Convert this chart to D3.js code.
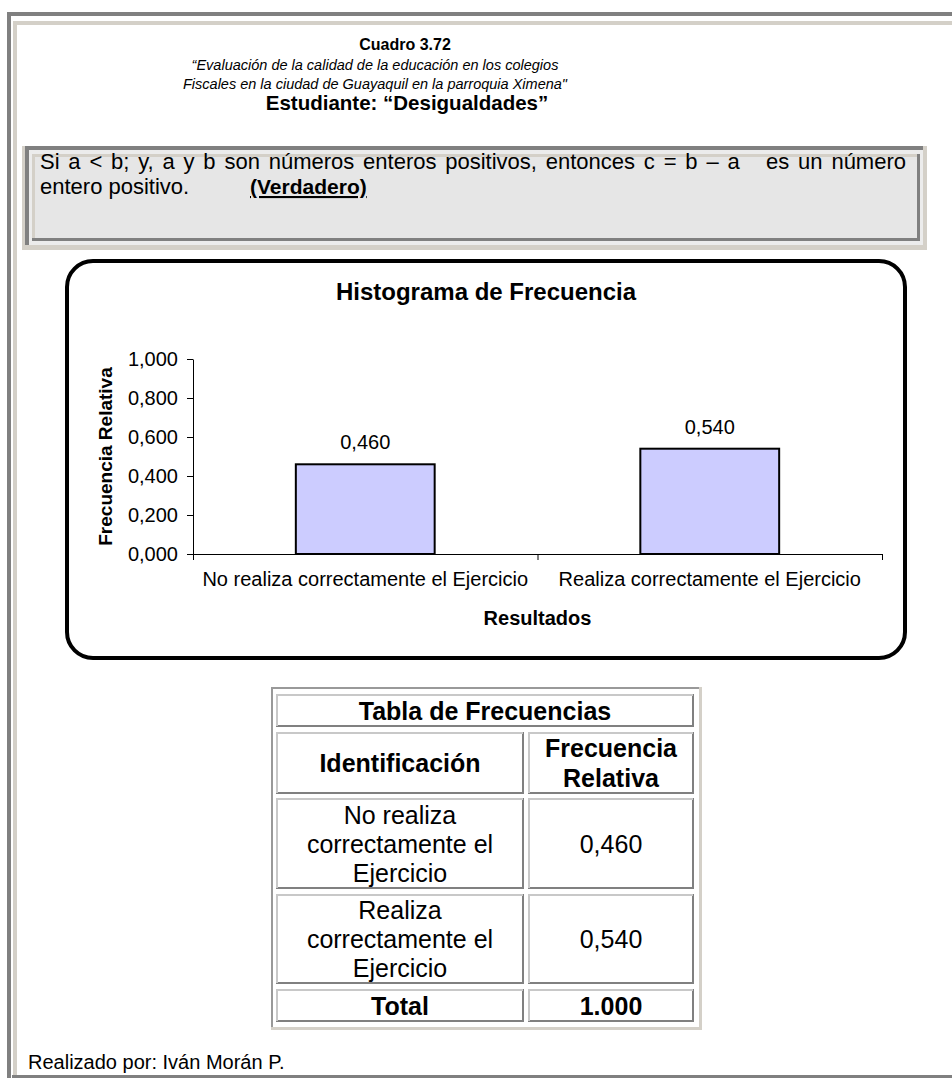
<!DOCTYPE html>
<html>
<head>
<meta charset="utf-8">
<script src="https://cdn.jsdelivr.net/npm/d3@7"></script>
<style>
  body { margin: 0; background: #fff; }
  text { font-family: "Liberation Sans", Arial, sans-serif; fill: #000; }
</style>
</head>
<body>
<div id="page"></div>
<script>
// ---- data ----
var categories = ["No realiza correctamente el Ejercicio", "Realiza correctamente el Ejercicio"];
var relFreq = [0.460, 0.540];
var yTicks = [0, 0.2, 0.4, 0.6, 0.8, 1.0];
var tableLabels = [["No realiza", "correctamente el", "Ejercicio"], ["Realiza", "correctamente el", "Ejercicio"]];
var totalLabel = "1.000";

var W = 952, H = 1078;
var font = '"Liberation Sans", Arial, sans-serif';

// spanish number format: 0,460
var es = d3.formatLocale({decimal: ",", thousands: ".", grouping: [3], currency: ["", ""]});
var fmt = es.format(".3f");

var svg = d3.select("#page").append("svg")
    .attr("width", W)
    .attr("height", H);

// ---- page frame (old html table borders) ----
svg.append("rect").attr("x", 7).attr("y", 12).attr("width", 960).attr("height", 1080).attr("fill", "#808080");
svg.append("rect").attr("x", 11).attr("y", 16).attr("width", 960).attr("height", 1080).attr("fill", "#fff");
svg.append("rect").attr("x", 13).attr("y", 21).attr("width", 960).attr("height", 1080).attr("fill", "#d4d0c8");
svg.append("rect").attr("x", 17).attr("y", 25).attr("width", 960).attr("height", 1080).attr("fill", "#fff");
svg.append("rect").attr("x", 12).attr("y", 1075).attr("width", 950).attr("height", 4).attr("fill", "#808080");

// ---- header ----
svg.append("text").attr("x", 405).attr("y", 50).attr("text-anchor", "middle")
    .attr("font-size", 16).attr("font-weight", "bold").text("Cuadro 3.72");
svg.append("text").attr("x", 375).attr("y", 70).attr("text-anchor", "middle")
    .attr("font-size", 14.5).attr("font-style", "italic")
    .text("\u201cEvaluación de la calidad de la educación en los colegios");
svg.append("text").attr("x", 375).attr("y", 89).attr("text-anchor", "middle")
    .attr("font-size", 14.5).attr("font-style", "italic")
    .text("Fiscales en la ciudad de Guayaquil en la parroquia Ximena\"");
svg.append("text").attr("x", 407).attr("y", 110).attr("text-anchor", "middle")
    .attr("font-size", 20.5).attr("font-weight", "bold")
    .text("Estudiante: \u201cDesigualdades\u201d");

// ---- statement box ----
var box = svg.append("g");
// outer table: dark top/left, beige bottom/right
box.append("rect").attr("x", 22).attr("y", 146).attr("width", 905).attr("height", 104).attr("fill", "#d4d0c8");
box.append("rect").attr("x", 25).attr("y", 146).attr("width", 898).attr("height", 99).attr("fill", "#808080");
box.append("rect").attr("x", 29).attr("y", 150).attr("width", 894).attr("height", 95).attr("fill", "#ececec");
// inner cell: beige top/left, dark bottom/right
box.append("rect").attr("x", 32).attr("y", 154).attr("width", 888).attr("height", 87).attr("fill", "#808080");
box.append("rect").attr("x", 32).attr("y", 154).attr("width", 885).attr("height", 84).attr("fill", "#d4d0c8");
box.append("rect").attr("x", 35).attr("y", 157).attr("width", 882).attr("height", 81).attr("fill", "#e6e6e6");

var line1 = "Si a < b; y, a y b son números enteros positivos, entonces c = b \u2013 a   es un número";
var t1 = box.append("text").attr("x", 40).attr("y", 169)
    .attr("font-size", 22).style("white-space", "pre")
    .text(line1);
// justify the first line with word spacing, as in the document
var natural = t1.node().getComputedTextLength();
var nSpaces = line1.split(" ").length - 1;
t1.style("word-spacing", Math.max(0, (866 - natural) / nSpaces) + "px");

box.append("text").attr("x", 40).attr("y", 194)
    .attr("font-size", 22).text("entero positivo.");
box.append("text").attr("x", 250).attr("y", 194)
    .attr("font-size", 21).attr("font-weight", "bold")
    .style("text-decoration", "underline").text("(Verdadero)");

// ---- chart ----
svg.append("rect").attr("x", 67).attr("y", 261).attr("width", 838).attr("height", 397)
    .attr("rx", 26).attr("fill", "#fff").attr("stroke", "#000").attr("stroke-width", 4);

svg.append("text").attr("x", 486).attr("y", 300).attr("text-anchor", "middle")
    .attr("font-size", 24).attr("font-weight", "bold").text("Histograma de Frecuencia");

var plot = {left: 193, right: 882, top: 359, bottom: 554};

var x = d3.scaleBand().domain(categories).range([plot.left, plot.right]);
var xEdge = d3.scaleLinear().domain([0, categories.length]).range([plot.left, plot.right]);
var y = d3.scaleLinear().domain([0, 1]).range([plot.bottom, plot.top]);

// y axis
var yAxis = svg.append("g")
    .attr("transform", "translate(" + plot.left + ",0)")
    .call(d3.axisLeft(y).tickValues(yTicks).tickFormat(fmt).tickSize(6).tickSizeOuter(0).tickPadding(9));
yAxis.attr("font-size", 20).attr("font-family", font);
yAxis.selectAll("text").attr("fill", "#000");

// x axis: line with ticks on the category boundaries
svg.append("g")
    .attr("transform", "translate(0," + plot.bottom + ")")
    .call(d3.axisBottom(xEdge).tickValues(d3.range(categories.length + 1)).tickFormat("").tickSize(6).tickSizeOuter(0));

// category labels
var xLabels = svg.append("g")
    .attr("transform", "translate(0," + plot.bottom + ")")
    .call(d3.axisBottom(x).tickSize(0).tickPadding(18));
xLabels.select(".domain").remove();
xLabels.attr("font-size", 20).attr("font-family", font);
xLabels.selectAll("text").attr("fill", "#000");

// bars
var barW = x.bandwidth() * 0.403;
svg.selectAll("rect.bar")
    .data(relFreq)
    .enter().append("rect")
    .attr("class", "bar")
    .attr("x", function(d, i) { return x(categories[i]) + x.bandwidth() / 2 - barW / 2; })
    .attr("y", function(d) { return y(d); })
    .attr("width", barW)
    .attr("height", function(d) { return plot.bottom - y(d); })
    .attr("fill", "#ccccff")
    .attr("stroke", "#000")
    .attr("stroke-width", 2);

svg.selectAll("text.val")
    .data(relFreq)
    .enter().append("text")
    .attr("class", "val")
    .attr("x", function(d, i) { return x(categories[i]) + x.bandwidth() / 2; })
    .attr("y", function(d) { return y(d) - 15; })
    .attr("text-anchor", "middle")
    .attr("font-size", 20)
    .text(function(d) { return fmt(d); });

// axis titles
svg.append("text").attr("x", (plot.left + plot.right) / 2).attr("y", 625)
    .attr("text-anchor", "middle").attr("font-size", 20).attr("font-weight", "bold").text("Resultados");
svg.append("text")
    .attr("transform", "translate(112," + (plot.top + plot.bottom) / 2 + ") rotate(-90)")
    .attr("text-anchor", "middle").attr("font-size", 19).attr("font-weight", "bold").text("Frecuencia Relativa");

// ---- frequency table ----
var colX = [[277, 523], [529, 693]];
var rowY = [[695, 726], [733, 793], [799, 888], [895, 983], [990, 1021]];

var tbl = svg.append("g");
tbl.append("rect").attr("x", 271).attr("y", 687).attr("width", 431).attr("height", 343).attr("fill", "#d4d0c8");
tbl.append("rect").attr("x", 271).attr("y", 687).attr("width", 428).attr("height", 340).attr("fill", "#999");
tbl.append("rect").attr("x", 273).attr("y", 689).attr("width", 426).attr("height", 338).attr("fill", "#fff");

function cell(x0, x1, y0, y1) {
  var g = tbl.append("g");
  g.append("rect").attr("x", x0).attr("y", y0).attr("width", x1 - x0).attr("height", y1 - y0)
      .attr("fill", "#fff").attr("stroke", "#808080").attr("stroke-width", 2);
  g.append("path").attr("d", "M" + x0 + "," + y1 + "V" + y0 + "H" + x1)
      .attr("fill", "none").attr("stroke", "#c8c8c8").attr("stroke-width", 2);
}
cell(colX[0][0], colX[1][1], rowY[0][0], rowY[0][1]);
for (var r = 1; r < rowY.length; r++) {
  cell(colX[0][0], colX[0][1], rowY[r][0], rowY[r][1]);
  cell(colX[1][0], colX[1][1], rowY[r][0], rowY[r][1]);
}
function cx(c) { return (colX[c][0] + colX[c][1]) / 2; }
function cy(r) { return (rowY[r][0] + rowY[r][1]) / 2; }

function cellText(x0, yc, lines, bold, lh) {
  var t = tbl.append("text").attr("text-anchor", "middle").attr("font-size", 25)
      .attr("font-weight", bold ? "bold" : "normal");
  lines.forEach(function(s, i) {
    t.append("tspan").attr("x", x0)
        .attr("y", yc + (i - (lines.length - 1) / 2) * lh + 9)
        .text(s);
  });
}
cellText((colX[0][0] + colX[1][1]) / 2, cy(0), ["Tabla de Frecuencias"], true, 0);
cellText(cx(0), cy(1), ["Identificación"], true, 0);
cellText(cx(1), cy(1), ["Frecuencia", "Relativa"], true, 30);
tableLabels.forEach(function(lines, i) {
  cellText(cx(0), cy(2 + i), lines, false, 29);
  cellText(cx(1), cy(2 + i), [fmt(relFreq[i])], false, 0);
});
cellText(cx(0), cy(4), ["Total"], true, 0);
cellText(cx(1), cy(4), [totalLabel], true, 0);

// ---- footer ----
svg.append("text").attr("x", 28).attr("y", 1069).attr("font-size", 20).text("Realizado por: Iván Morán P.");
</script>
</body>
</html>
